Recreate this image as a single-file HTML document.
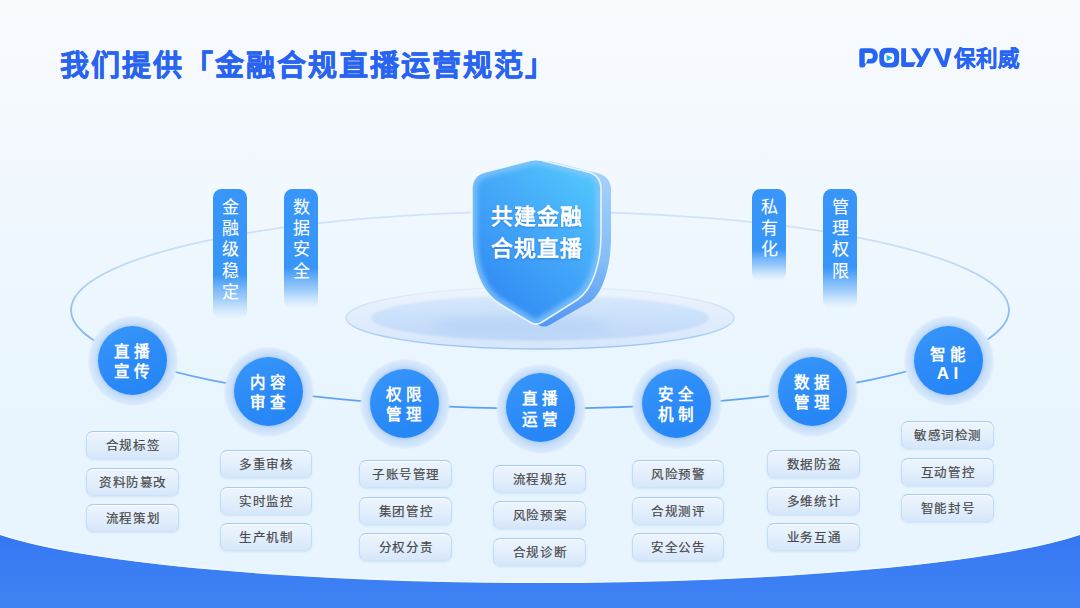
<!DOCTYPE html>
<html lang="zh-CN">
<head>
<meta charset="utf-8">
<style>
*{margin:0;padding:0;box-sizing:border-box;}
html,body{width:1080px;height:608px;overflow:hidden;}
body{position:relative;font-family:"Liberation Sans",sans-serif;background:linear-gradient(180deg,#f8fbfe 0%,#f4f9fe 20%,#f0f8fe 35%,#ebf6fe 55%,#e8f5fe 70%,#e8f5fe 100%);}
.abs{position:absolute;}
.title{left:60px;top:47px;font-size:29px;font-weight:700;color:#2864f0;white-space:nowrap;letter-spacing:2px;line-height:38px;-webkit-text-stroke:0.5px #2864f0;}
.vpill{position:absolute;top:189px;width:34px;color:#fff;font-size:17px;line-height:21.2px;text-align:center;padding-top:8px;-webkit-text-stroke:0.1px #fff;}
.circ{position:absolute;width:86px;height:86px;border-radius:50%;}
.circ .glow{position:absolute;left:-3px;top:-2px;width:92px;height:92px;border-radius:50%;background:radial-gradient(circle,#bed8f8 0px,#bed8f8 35px,#cae0f9 38px,#d3e6fb 41.5px,#d8e9fc 43px,rgba(228,241,254,0) 45.5px);}
.circ .in{position:absolute;left:8.5px;top:8.5px;width:69px;height:69px;border-radius:50%;background:linear-gradient(155deg,#3898fa 0%,#2c8bf7 50%,#2384f5 100%);box-shadow:0 0 2px 1px rgba(160,198,244,.45);color:#fff;font-weight:700;font-size:15.5px;line-height:20.5px;text-align:center;display:flex;align-items:center;justify-content:center;letter-spacing:4px;padding-left:2.5px;padding-top:4px;}
.tag{position:absolute;width:92.5px;height:28px;border-radius:7px;background:linear-gradient(180deg,#edf5fe 0%,#e3effc 50%,#d6e7fb 100%);border:1px solid #c4dbf7;border-top-color:#a9caf4;border-bottom-color:#d0e3fa;box-shadow:0 1px 2px rgba(150,190,235,.3), inset 0 1px 0 rgba(255,255,255,.7);color:#4a4a4a;font-size:12.5px;line-height:26px;text-align:center;letter-spacing:0.6px;padding-left:1px;padding-top:1px;-webkit-text-stroke:0.2px #4a4a4a;}
</style>
</head>
<body>
<svg class="abs" style="left:0;top:0" width="1080" height="608">
  <defs>
    <linearGradient id="bb" x1="0" y1="0" x2="0" y2="1">
      <stop offset="0" stop-color="#3577f2"/>
      <stop offset="0.35" stop-color="#3a7cf3"/>
      <stop offset="1" stop-color="#3f82f4"/>
    </linearGradient>
    <linearGradient id="el" x1="0" y1="0" x2="0" y2="1">
      <stop offset="0" stop-color="#d3e4f9"/>
      <stop offset="0.25" stop-color="#c4dbf7"/>
      <stop offset="0.5" stop-color="#92bff5"/>
      <stop offset="1" stop-color="#5aa0f2"/>
    </linearGradient>
    <radialGradient id="plat1" cx="0.5" cy="0.5" r="0.5">
      <stop offset="0" stop-color="#dbe9fb"/>
      <stop offset="1" stop-color="#e3effc"/>
    </radialGradient>
    <linearGradient id="shf" x1="0.85" y1="0.05" x2="0.2" y2="0.95">
      <stop offset="0" stop-color="#50c6fc"/>
      <stop offset="0.4" stop-color="#46abf9"/>
      <stop offset="1" stop-color="#3089f4"/>
    </linearGradient>
    <linearGradient id="shs" x1="0" y1="0" x2="0" y2="1">
      <stop offset="0" stop-color="#a9d3fa"/>
      <stop offset="0.6" stop-color="#84bdf7"/>
      <stop offset="1" stop-color="#5296f2"/>
    </linearGradient>
    <linearGradient id="vp" x1="0" y1="0" x2="0" y2="1">
      <stop offset="0" stop-color="#3795f9"/>
      <stop offset="0.66" stop-color="#3996f8"/>
      <stop offset="0.84" stop-color="#5aa7f8" stop-opacity="0.55"/>
      <stop offset="1" stop-color="#8cc3fa" stop-opacity="0"/>
    </linearGradient>
    <linearGradient id="plat" x1="0" y1="0" x2="0" y2="1">
      <stop offset="0" stop-color="#edf4fd"/>
      <stop offset="1" stop-color="#d6e6fb"/>
    </linearGradient>
    <linearGradient id="platst" x1="0" y1="0" x2="0" y2="1">
      <stop offset="0" stop-color="#e3eefc"/>
      <stop offset="0.5" stop-color="#c5dcf8"/>
      <stop offset="1" stop-color="#97c0f3"/>
    </linearGradient>
    <linearGradient id="plat2" x1="0" y1="0" x2="0" y2="1">
      <stop offset="0" stop-color="#d6e8fc"/>
      <stop offset="1" stop-color="#c0d8f8"/>
    </linearGradient>
    <filter id="blur03" x="-20%" y="-10%" width="140%" height="120%"><feGaussianBlur stdDeviation="0.35"/></filter>
    <filter id="blur05"><feGaussianBlur stdDeviation="0.6"/></filter>
    <filter id="blur2" x="-10%" y="-10%" width="120%" height="120%"><feGaussianBlur stdDeviation="2"/></filter>
    <filter id="blur4" x="-30%" y="-100%" width="160%" height="300%"><feGaussianBlur stdDeviation="5"/></filter>
    <filter id="blur1"><feGaussianBlur stdDeviation="1.2"/></filter>
    <filter id="tsh" x="-20%" y="-20%" width="140%" height="140%"><feDropShadow dx="0" dy="1" stdDeviation="1" flood-color="#1d5fc9" flood-opacity="0.45"/></filter>
  </defs>
  <!-- bottom blue -->
  <path d="M0,535 L0,608 L1080,608 L1080,535 A580,75.6 0 0 1 0,535 Z" fill="url(#bb)"/>
  <path d="M1080,534 A580,75.6 0 0 1 0,534" fill="none" stroke="#f4faff" stroke-width="1.2" stroke-opacity="0.7"/>
  <!-- big ellipse -->
  <ellipse cx="540" cy="310" rx="469" ry="98.5" fill="none" stroke="url(#el)" stroke-width="1.8"/>
  <!-- platform -->
  <ellipse cx="540" cy="318" rx="194" ry="31" fill="url(#plat)" stroke="url(#platst)" stroke-width="1.3"/>
  <ellipse cx="540" cy="318" rx="169" ry="22.5" fill="url(#plat2)" filter="url(#blur1)"/>
  <ellipse cx="520" cy="326" rx="90" ry="11" fill="#b5d2f7" opacity="0.6" filter="url(#blur4)"/>
  <!-- shield extrusion -->
  <path d="M540,161.3 Q545,160 550,161.3 L597,173 Q611,176.5 611,190 L611,237 C611,264 604,292 590,302 L549.5,325 Q544,328 538.5,325 L509,306 C489,292 481,264 481,237 L481,190 Q481,176.5 494,173 Z" fill="url(#shs)" filter="url(#blur05)"/>
  <!-- shield front -->
  <path id="shp" d="M531,160.3 Q536,159 541,160.3 L588,172 Q601,175.5 601,189 L601,235 C601,262 593,289.9 577,300 L541.5,322.5 Q536,325.8 530.5,322.5 L500,304 C477,290 472,262 472,235 L472,189 Q472,175.5 485,172 Z" fill="url(#shf)"/>
  <clipPath id="shclip"><path d="M531,160.3 Q536,159 541,160.3 L588,172 Q601,175.5 601,189 L601,235 C601,262 593,289.9 577,300 L541.5,322.5 Q536,325.8 530.5,322.5 L500,304 C477,290 472,262 472,235 L472,189 Q472,175.5 485,172 Z"/></clipPath>
  <g clip-path="url(#shclip)"><path d="M531,160.3 Q536,159 541,160.3 L588,172 Q601,175.5 601,189 L601,235 C601,262 593,289.9 577,300 L541.5,322.5 Q536,325.8 530.5,322.5 L500,304 C477,290 472,262 472,235 L472,189 Q472,175.5 485,172 Z" fill="none" stroke="#86c6fb" stroke-width="11" stroke-opacity="0.75" filter="url(#blur2)"/></g>
  <path d="M531,160.3 Q536,159 541,160.3 L588,172 Q601,175.5 601,189 L601,235 C601,262 593,289.9 577,300 L541.5,322.5 Q536,325.8 530.5,322.5 L500,304 C477,290 472,262 472,235 L472,189 Q472,175.5 485,172 Z" fill="none" stroke="#f4f9ff" stroke-width="1.6" stroke-opacity="0.9"/>
  <g fill="#fff" font-family="Liberation Sans, sans-serif" font-size="22" font-weight="700" text-anchor="middle" filter="url(#tsh)">
    <text x="536.5" y="224" letter-spacing="1">共建金融</text>
    <text x="536.5" y="255.7" letter-spacing="1">合规直播</text>
  </g>
  <!-- vertical pills -->
  <rect x="213" y="189" width="34" height="130" rx="8.5" fill="url(#vp)" filter="url(#blur03)"/>
  <rect x="284" y="189" width="34" height="120" rx="8.5" fill="url(#vp)" filter="url(#blur03)"/>
  <rect x="752" y="189" width="34" height="92" rx="8.5" fill="url(#vp)" filter="url(#blur03)"/>
  <rect x="823" y="189" width="34" height="120" rx="8.5" fill="url(#vp)" filter="url(#blur03)"/>
</svg>

<div class="abs title">我们提供「金融合规直播运营规范」</div>

<!-- logo -->
<svg class="abs" style="left:855px;top:44px" width="170" height="28" viewBox="855 44 170 28">
  <g fill="#2864f4" fill-rule="evenodd">
    <path d="M859.3,50.4 Q859.3,48.2 861.5,48.2 H870.5 C875,48.2 877.8,51.5 877.8,55.9 C877.8,60.4 875,63.6 870.5,63.6 H866 L865.5,65.3 Q864.8,67.6 862.6,67.6 H861.5 Q859.3,67.6 859.3,65.4 Z M864.7,53.1 H870 Q872.9,53.1 872.9,56.1 Q872.9,59.1 870,59.1 H867.8 L865.9,63.6 H864.7 Z"/>
    <path d="M886.3,47.8 H892.1 Q899.1,47.8 899.1,54.8 V60.6 Q899.1,67.6 892.1,67.6 H886.3 Q879.3,67.6 879.3,60.6 V54.8 Q879.3,47.8 886.3,47.8 Z M888,52.7 Q884,52.7 884,56.7 V58.9 Q884,62.9 888,62.9 H890.2 Q894.2,62.9 894.2,58.9 V56.7 Q894.2,52.7 890.2,52.7 Z"/>
    <path d="M901.2,48.3 H906 V62.3 H915.7 L913.4,67.1 H903.4 Q901.2,67.1 901.2,64.9 Z"/>
    <path d="M910.9,48.3 H916.3 L921.8,57.2 L926.5,48.3 H931.3 L921.6,67.1 H916 L919.4,60.6 Z"/>
    <path d="M932.9,48.3 H938 L944,61.3 L946.6,48.3 H951.7 L946.9,65.8 Q946.5,67.1 945.2,67.1 H943 Q941.9,67.1 941.5,66 Z"/>
  </g>
  <path d="M887.2,55.6 L891.9,57.9 L887.2,60.3 Z" fill="#12b1f2" stroke="#12b1f2" stroke-width="1" stroke-linejoin="round"/>
  <text x="954" y="66" font-family="Liberation Sans, sans-serif" font-size="21.5" font-weight="700" fill="#2864f4" stroke="#2864f4" stroke-width="0.35" letter-spacing="0">保利威</text>
</svg>

<!-- vertical pill text -->
<div class="vpill" style="left:213px;">金<br>融<br>级<br>稳<br>定</div>
<div class="vpill" style="left:284px;">数<br>据<br>安<br>全</div>
<div class="vpill" style="left:752px;">私<br>有<br>化</div>
<div class="vpill" style="left:823px;">管<br>理<br>权<br>限</div>

<!-- circles -->
<div class="circ" style="left:89.5px;top:317px;"><div class="glow"></div><div class="in">直播<br>宣传</div></div>
<div class="circ" style="left:225.5px;top:348px;"><div class="glow"></div><div class="in">内容<br>审查</div></div>
<div class="circ" style="left:361.5px;top:360px;"><div class="glow"></div><div class="in">权限<br>管理</div></div>
<div class="circ" style="left:497.5px;top:364.5px;"><div class="glow"></div><div class="in">直播<br>运营</div></div>
<div class="circ" style="left:633.5px;top:360px;"><div class="glow"></div><div class="in">安全<br>机制</div></div>
<div class="circ" style="left:769.5px;top:348px;"><div class="glow"></div><div class="in">数据<br>管理</div></div>
<div class="circ" style="left:905.5px;top:317px;"><div class="glow"></div><div class="in" style="padding-top:8.4px;line-height:19px;"><div>智能<br><span style="font-size:17px;letter-spacing:4.5px;">AI</span></div></div></div>

<!-- tags -->
<div class="tag" style="left:86.3px;top:431.3px;">合规标签</div>
<div class="tag" style="left:86.3px;top:467.8px;">资料防篡改</div>
<div class="tag" style="left:86.3px;top:504px;">流程策划</div>

<div class="tag" style="left:219.7px;top:450px;">多重审核</div>
<div class="tag" style="left:219.7px;top:486.6px;">实时监控</div>
<div class="tag" style="left:219.7px;top:523px;">生产机制</div>

<div class="tag" style="left:359.3px;top:460.4px;">子账号管理</div>
<div class="tag" style="left:359.3px;top:497px;">集团管控</div>
<div class="tag" style="left:359.3px;top:533.3px;">分权分责</div>

<div class="tag" style="left:493.2px;top:465px;">流程规范</div>
<div class="tag" style="left:493.2px;top:501.4px;">风险预案</div>
<div class="tag" style="left:493.2px;top:537.5px;">合规诊断</div>

<div class="tag" style="left:631.6px;top:460.4px;">风险预警</div>
<div class="tag" style="left:631.6px;top:497px;">合规测评</div>
<div class="tag" style="left:631.6px;top:533.3px;">安全公告</div>

<div class="tag" style="left:767.3px;top:450.2px;">数据防盗</div>
<div class="tag" style="left:767.3px;top:487px;">多维统计</div>
<div class="tag" style="left:767.3px;top:523px;">业务互通</div>

<div class="tag" style="left:901.3px;top:421.1px;">敏感词检测</div>
<div class="tag" style="left:901.3px;top:457.6px;">互动管控</div>
<div class="tag" style="left:901.3px;top:494px;">智能封号</div>
</body>
</html>
